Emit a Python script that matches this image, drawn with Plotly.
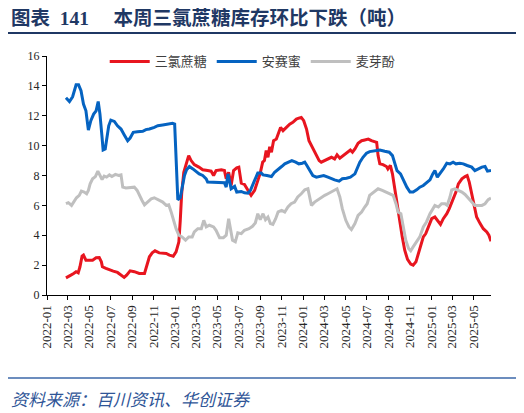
import plotly.graph_objects as go

# 三氯蔗糖 weekly inventory
sucralose_dates = [
    "2022-02-24", "2022-03-03", "2022-03-10", "2022-03-18", "2022-03-25", "2022-03-31",
    "2022-04-05", "2022-04-11", "2022-04-15", "2022-04-22", "2022-05-01", "2022-05-11",
    "2022-05-21", "2022-05-30", "2022-06-05", "2022-06-08", "2022-06-18", "2022-06-28",
    "2022-07-09", "2022-07-21", "2022-07-31", "2022-08-09", "2022-08-16", "2022-08-26",
    "2022-09-07", "2022-09-21", "2022-10-06", "2022-10-12", "2022-10-20", "2022-10-28",
    "2022-11-05", "2022-11-17", "2022-11-27", "2022-12-07", "2022-12-16", "2022-12-27",
    "2023-01-04", "2023-01-12", "2023-01-16", "2023-01-20", "2023-01-26", "2023-02-02",
    "2023-02-09", "2023-02-16", "2023-02-25", "2023-03-10", "2023-03-21", "2023-04-04",
    "2023-04-14", "2023-04-21", "2023-04-28", "2023-05-13", "2023-05-22", "2023-05-27",
    "2023-06-03", "2023-06-10", "2023-06-17", "2023-06-26", "2023-07-02", "2023-07-09",
    "2023-07-18", "2023-07-31", "2023-08-06", "2023-08-16", "2023-08-25", "2023-09-01",
    "2023-09-08", "2023-09-13", "2023-09-18", "2023-09-23", "2023-09-28", "2023-10-03",
    "2023-10-09", "2023-10-17", "2023-10-24", "2023-10-29", "2023-11-05", "2023-11-14",
    "2023-11-24", "2023-12-03", "2023-12-13", "2023-12-20", "2023-12-27", "2024-01-03",
    "2024-01-11", "2024-01-18", "2024-01-25", "2024-02-01", "2024-02-08", "2024-02-16",
    "2024-02-22", "2024-03-03", "2024-03-12", "2024-03-22", "2024-03-31", "2024-04-07",
    "2024-04-15", "2024-04-24", "2024-05-06", "2024-05-15", "2024-05-21", "2024-05-28",
    "2024-06-06", "2024-06-16", "2024-06-25", "2024-07-05", "2024-07-14", "2024-07-22",
    "2024-07-29", "2024-08-02", "2024-08-07", "2024-08-16", "2024-08-26", "2024-08-30",
    "2024-09-06", "2024-09-12", "2024-09-19", "2024-09-25", "2024-10-03", "2024-10-10",
    "2024-10-17", "2024-10-25", "2024-11-03", "2024-11-10", "2024-11-18", "2024-11-24",
    "2024-12-01", "2024-12-09", "2024-12-16", "2024-12-23", "2025-01-02", "2025-01-11",
    "2025-01-21", "2025-01-27", "2025-02-04", "2025-02-14", "2025-02-21", "2025-03-03",
    "2025-03-12", "2025-03-19", "2025-03-29", "2025-04-07", "2025-04-13", "2025-04-19",
    "2025-04-26", "2025-05-03", "2025-05-10", "2025-05-20", "2025-05-29", "2025-06-08",
    "2025-06-14", "2025-06-20",
]
sucralose = [
    1.15, 1.22, 1.33, 1.44, 1.56, 1.49,
    1.89, 2.6, 2.67, 2.33, 2.33, 2.33,
    2.49, 2.51, 2.22, 1.89, 1.78, 1.67,
    1.6, 1.51, 1.33, 1.18, 1.33, 1.62,
    1.56, 1.44, 1.44, 1.89, 2.56, 2.82,
    2.96, 2.82, 2.82, 2.78, 2.67, 2.6,
    2.89, 3.56, 5.0, 6.78, 8.22, 8.78,
    9.33, 9.0, 8.73, 8.56, 8.38, 8.33,
    8.29, 8.0, 8.33, 8.38, 8.33, 7.78,
    8.22, 7.33, 8.33, 8.51, 8.56, 7.49,
    7.4, 6.89, 6.67, 7.0, 7.67, 8.16,
    8.9, 9.0, 9.67, 9.22, 9.93, 9.56,
    10.33, 10.44, 10.89, 11.22, 11.0, 11.22,
    11.44, 11.56, 11.78, 11.84, 11.89, 11.67,
    11.11, 10.33, 10.0, 9.78, 9.44, 9.0,
    8.89, 9.0, 9.11, 9.22, 9.11, 9.38,
    9.16, 9.33, 9.56, 9.71, 9.56, 9.78,
    10.16, 10.33, 10.38, 10.44, 10.33, 10.25,
    10.22, 9.33, 8.78, 8.73, 8.6, 8.44,
    8.67, 8.11, 7.0, 6.11, 5.0, 3.89,
    3.0, 2.38, 2.07, 2.0, 2.22, 2.67,
    3.33, 3.89, 4.11, 4.56, 5.11, 5.22,
    4.89, 4.73, 5.11, 5.44, 5.78, 6.33,
    6.89, 7.44, 7.78, 7.93, 8.0, 7.56,
    6.78, 5.89, 5.22, 4.78, 4.44, 4.22,
    4.0, 3.6,
]

# 安赛蜜 weekly inventory
acesulfame_dates = [
    "2022-02-24", "2022-03-06", "2022-03-15", "2022-03-25", "2022-04-01", "2022-04-08",
    "2022-04-15", "2022-04-22", "2022-04-29", "2022-05-06", "2022-05-14", "2022-05-21",
    "2022-05-27", "2022-06-01", "2022-06-07", "2022-06-10", "2022-06-16", "2022-06-21",
    "2022-06-26", "2022-07-02", "2022-07-12", "2022-07-21", "2022-07-31", "2022-08-09",
    "2022-08-19", "2022-08-26", "2022-09-04", "2022-09-16", "2022-10-01", "2022-10-10",
    "2022-10-20", "2022-11-03", "2022-11-13", "2022-11-27", "2022-12-11", "2022-12-25",
    "2022-12-31", "2023-01-09", "2023-01-16", "2023-01-21", "2023-01-28", "2023-02-03",
    "2023-02-11", "2023-02-21", "2023-03-02", "2023-03-11", "2023-03-21", "2023-03-31",
    "2023-04-04", "2023-04-28", "2023-05-22", "2023-05-27", "2023-06-01", "2023-06-05",
    "2023-06-10", "2023-06-20", "2023-06-26", "2023-07-09", "2023-07-18", "2023-07-28",
    "2023-08-04", "2023-08-16", "2023-08-25", "2023-09-04", "2023-09-09", "2023-09-20",
    "2023-10-03", "2023-10-12", "2023-10-22", "2023-11-01", "2023-11-10", "2023-11-19",
    "2023-11-30", "2023-12-11", "2023-12-20", "2023-12-30", "2024-01-06", "2024-01-12",
    "2024-01-20", "2024-01-29", "2024-02-08", "2024-02-18", "2024-02-29", "2024-03-12",
    "2024-03-22", "2024-03-31", "2024-04-13", "2024-04-22", "2024-05-04", "2024-05-15",
    "2024-05-28", "2024-06-03", "2024-06-11", "2024-06-20", "2024-06-30", "2024-07-09",
    "2024-07-24", "2024-08-07", "2024-08-21", "2024-09-03", "2024-09-12", "2024-09-19",
    "2024-09-25", "2024-10-05", "2024-10-13", "2024-10-23", "2024-11-01", "2024-11-10",
    "2024-11-20", "2024-11-29", "2024-12-09", "2024-12-18", "2024-12-28", "2025-01-05",
    "2025-01-11", "2025-01-18", "2025-01-25", "2025-02-04", "2025-02-14", "2025-02-23",
    "2025-03-04", "2025-03-12", "2025-03-23", "2025-04-02", "2025-04-13", "2025-04-26",
    "2025-05-05", "2025-05-15", "2025-05-25", "2025-06-03", "2025-06-10", "2025-06-20",
]
acesulfame = [
    13.2, 12.95, 13.27, 14.07, 14.07, 13.67,
    12.78, 12.33, 11.04, 11.67, 12.11, 12.33,
    12.95, 12.11, 10.55, 9.71, 9.78, 10.67,
    11.33, 11.71, 11.62, 11.33, 11.11, 10.73,
    10.33, 10.51, 10.89, 10.93, 10.96, 11.07,
    11.11, 11.22, 11.33, 11.38, 11.44, 11.49,
    11.44, 6.38, 6.51, 7.11, 8.0, 8.38,
    8.6, 8.44, 8.27, 8.11, 8.0, 7.78,
    7.56, 7.56, 7.51, 7.22, 8.11, 7.67,
    7.11, 7.27, 6.89, 6.93, 6.84, 6.82,
    7.0, 7.67, 8.16, 8.16, 8.04, 8.0,
    7.93, 8.22, 8.38, 8.6, 8.78, 8.89,
    9.0, 8.89, 8.78, 8.82, 8.89, 8.67,
    8.33, 8.0, 7.89, 7.93, 8.0, 7.89,
    7.78, 7.71, 7.62, 7.78, 7.82, 7.89,
    8.11, 8.44, 8.89, 9.22, 9.49, 9.6,
    9.67, 9.71, 9.62, 9.56, 9.33, 8.78,
    8.33, 8.11, 7.67, 7.22, 6.89, 6.89,
    7.04, 7.22, 7.33, 7.49, 7.71, 8.11,
    8.33, 7.89, 8.11, 8.44, 8.82, 8.78,
    8.89, 8.78, 8.82, 8.78, 8.67, 8.56,
    8.33, 8.44, 8.56, 8.6, 8.29, 8.33,
]

# 麦芽酚 weekly inventory
maltol_dates = [
    "2022-02-24", "2022-03-03", "2022-03-12", "2022-03-20", "2022-03-26", "2022-04-03",
    "2022-04-09", "2022-04-17", "2022-04-24", "2022-04-29", "2022-05-04", "2022-05-11",
    "2022-05-19", "2022-05-26", "2022-06-01", "2022-06-07", "2022-06-13", "2022-06-20",
    "2022-06-28", "2022-07-05", "2022-07-15", "2022-07-24", "2022-07-31", "2022-08-05",
    "2022-08-14", "2022-08-26", "2022-09-07", "2022-09-15", "2022-09-21", "2022-09-29",
    "2022-10-06", "2022-10-15", "2022-10-25", "2022-11-03", "2022-11-13", "2022-11-27",
    "2022-12-07", "2022-12-14", "2022-12-21", "2022-12-27", "2023-01-04", "2023-01-12",
    "2023-01-21", "2023-01-31", "2023-02-09", "2023-02-19", "2023-02-25", "2023-03-07",
    "2023-03-17", "2023-03-24", "2023-03-31", "2023-04-09", "2023-04-21", "2023-04-28",
    "2023-05-08", "2023-05-19", "2023-05-27", "2023-06-03", "2023-06-08", "2023-06-14",
    "2023-06-22", "2023-06-29", "2023-07-09", "2023-07-18", "2023-07-31", "2023-08-10",
    "2023-08-18", "2023-08-25", "2023-09-01", "2023-09-09", "2023-09-16", "2023-09-23",
    "2023-09-30", "2023-10-07", "2023-10-15", "2023-10-22", "2023-11-01", "2023-11-10",
    "2023-11-19", "2023-11-28", "2023-12-08", "2023-12-17", "2023-12-27", "2024-01-06",
    "2024-01-15", "2024-01-20", "2024-01-25", "2024-02-03", "2024-02-13", "2024-02-22",
    "2024-03-03", "2024-03-12", "2024-03-22", "2024-03-31", "2024-04-07", "2024-04-15",
    "2024-04-22", "2024-05-02", "2024-05-11", "2024-05-18", "2024-05-28", "2024-06-06",
    "2024-06-16", "2024-06-25", "2024-07-02", "2024-07-09", "2024-07-21", "2024-08-02",
    "2024-08-14", "2024-08-26", "2024-09-06", "2024-09-14", "2024-09-22", "2024-09-28",
    "2024-10-06", "2024-10-13", "2024-10-20", "2024-10-28", "2024-11-03", "2024-11-10",
    "2024-11-20", "2024-11-29", "2024-12-09", "2024-12-18", "2024-12-28", "2025-01-05",
    "2025-01-11", "2025-01-21", "2025-01-30", "2025-02-09", "2025-02-15", "2025-02-23",
    "2025-02-28", "2025-03-09", "2025-03-19", "2025-03-29", "2025-04-07", "2025-04-16",
    "2025-04-26", "2025-05-05", "2025-05-15", "2025-05-25", "2025-06-03", "2025-06-12",
    "2025-06-20",
]
maltol = [
    6.11, 6.18, 6.0, 6.33, 6.51, 6.67,
    6.96, 6.89, 6.78, 7.0, 7.44, 7.78,
    7.93, 8.29, 8.0, 7.73, 7.96, 7.89,
    8.04, 7.93, 8.07, 8.0, 8.04, 7.22,
    7.16, 7.18, 7.22, 7.0, 6.67, 6.33,
    6.04, 6.22, 6.44, 6.51, 6.38, 6.22,
    6.0, 6.04, 5.56, 5.0, 4.44, 4.0,
    3.89, 3.67, 3.89, 3.89, 4.22, 4.44,
    4.44, 5.0, 4.56, 4.67, 4.56, 4.33,
    3.84, 3.84, 4.0, 5.11, 4.44, 3.67,
    3.56, 4.16, 4.11, 4.33, 4.44, 4.6,
    4.82, 5.44, 5.04, 5.44, 5.04, 5.22,
    4.78, 4.73, 5.11, 5.56, 5.67, 5.56,
    5.89, 6.11, 6.22, 6.56, 6.78, 7.04,
    7.11, 6.56, 6.0, 6.22, 6.38, 6.56,
    6.67, 6.78, 6.89, 7.0, 7.11, 6.56,
    5.78, 5.0, 4.56, 4.38, 4.78, 5.33,
    5.56, 5.89, 6.11, 6.67, 6.89, 7.11,
    7.0, 6.89, 6.78, 6.67, 6.11, 5.56,
    5.44, 4.56, 3.67, 3.11, 2.96, 3.22,
    3.56, 3.89, 4.56, 4.89, 5.44, 5.78,
    6.0, 5.89, 6.11, 6.11, 6.0, 6.56,
    7.04, 7.11, 7.0, 6.89, 6.73, 6.51,
    6.22, 6.0, 6.0, 6.0, 6.11, 6.38,
    6.5,
]

title_text = "图表&nbsp;&nbsp;141　 本周三氯蔗糖库存环比下跌（吨）"
source_text = "资料来源：百川资讯、华创证券"

serif = "Liberation Serif, Noto Sans CJK SC"
cjk = "Noto Sans CJK SC"

fig = go.Figure()
fig.add_trace(go.Scatter(x=sucralose_dates, y=sucralose, name="三氯蔗糖", mode="lines",
                         line=dict(color="#E8151F", width=3)))
fig.add_trace(go.Scatter(x=acesulfame_dates, y=acesulfame, name="安赛蜜", mode="lines",
                         line=dict(color="#0563C1", width=3)))
fig.add_trace(go.Scatter(x=maltol_dates, y=maltol, name="麦芽酚", mode="lines",
                         line=dict(color="#BFBFBF", width=3)))

# the page body has an 8px margin, so the figure is laid out 8px up/left
fig.update_layout(
    width=524, height=413,
    margin=dict(l=39, r=41, t=48, b=126),
    paper_bgcolor="white", plot_bgcolor="white",
    showlegend=True,
    legend=dict(orientation="h", x=0.13, y=1.04, xanchor="left", yanchor="top",
                font=dict(family=cjk, size=13, color="#404040"),
                bgcolor="rgba(0,0,0,0)", itemwidth=40, tracegroupgap=0),
    xaxis=dict(type="date", range=["2022-01-01", "2025-06-20"],
               tick0="2022-01-01", dtick="M2", tickformat="%Y-%m", tickangle=-90,
               showgrid=False, zeroline=False, showline=True, linecolor="black", linewidth=1,
               ticks="outside", ticklen=4, tickcolor="black",
               tickfont=dict(family=serif, size=13, color="#262626")),
    yaxis=dict(range=[0, 16], dtick=2, showgrid=False, zeroline=False,
               showline=True, linecolor="black", linewidth=1,
               ticks="outside", ticklen=4, tickcolor="black",
               tickfont=dict(family=serif, size=12, color="#262626")),
)

# title, rules and source note outside the plot area
fig.add_annotation(text="<b>" + title_text + "</b>", xref="paper", yref="paper",
                   x=-0.085, y=1.16, xanchor="left", yanchor="middle", showarrow=False,
                   font=dict(family=serif, size=19.5, color="#1F3864"))
fig.add_shape(type="line", xref="paper", yref="paper", x0=-0.092, x1=1.061,
              y0=1.096, y1=1.096, line=dict(color="#1F3864", width=2))
fig.add_shape(type="line", xref="paper", yref="paper", x0=-0.092, x1=1.061,
              y0=-0.347, y1=-0.347, line=dict(color="#3B67A8", width=1.5))
fig.add_annotation(text="<i>" + source_text + "</i>", xref="paper", yref="paper",
                   x=-0.085, y=-0.431, xanchor="left", yanchor="middle", showarrow=False,
                   font=dict(family=cjk, size=17, color="#2F5597"))

fig.write_html("out.html")
